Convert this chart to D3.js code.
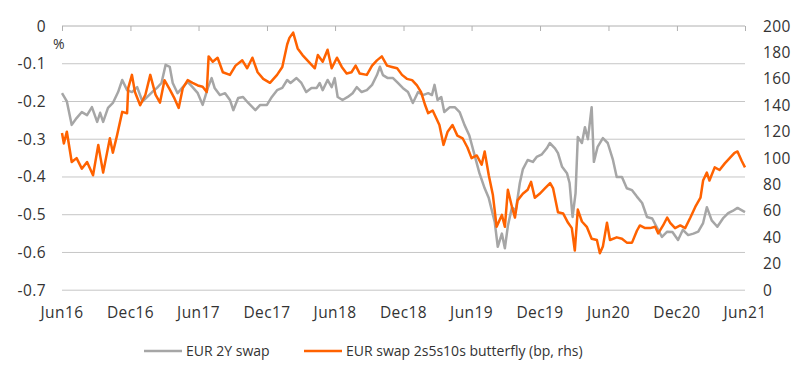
<!DOCTYPE html>
<html><head><meta charset="utf-8">
<script src="https://cdn.jsdelivr.net/npm/d3@7/dist/d3.min.js"></script>
<style>body{margin:0;background:#fff}svg{display:block}text{font-family:"Open Sans",sans-serif}</style>
</head><body><svg id="c" width="800" height="379"></svg>
<script>
const leftTicks = [0,-0.1,-0.2,-0.3,-0.4,-0.5,-0.6,-0.7];
const rightTicks = [0,20,40,60,80,100,120,140,160,180,200];
const xTickLabels = ["Jun16","Dec16","Jun17","Dec17","Jun18","Dec18","Jun19","Dec19","Jun20","Dec20","Jun21"];
const seriesNames = ["EUR 2Y swap","EUR swap 2s5s10s butterfly (bp, rhs)"];

const swapDates = ["2016-06-01","2016-06-14","2016-06-27","2016-07-10","2016-07-24","2016-08-07","2016-08-20","2016-09-03","2016-09-11","2016-09-19","2016-10-02","2016-10-15","2016-10-29","2016-11-09","2016-11-22","2016-12-05","2016-12-19","2017-01-02","2017-01-15","2017-01-28","2017-02-10","2017-02-22","2017-03-05","2017-03-16","2017-03-24","2017-04-06","2017-04-20","2017-05-03","2017-05-16","2017-05-30","2017-06-12","2017-06-26","2017-07-06","2017-07-14","2017-07-28","2017-08-11","2017-08-24","2017-09-02","2017-09-15","2017-09-28","2017-10-12","2017-10-31","2017-11-13","2017-12-01","2017-12-14","2017-12-28","2018-01-11","2018-01-24","2018-02-02","2018-02-18","2018-03-03","2018-03-16","2018-03-30","2018-04-13","2018-04-21","2018-04-29","2018-05-12","2018-05-23","2018-05-31","2018-06-08","2018-06-21","2018-07-05","2018-07-18","2018-07-29","2018-08-11","2018-08-25","2018-09-08","2018-09-21","2018-09-29","2018-10-07","2018-10-20","2018-11-03","2018-11-16","2018-11-29","2018-12-13","2018-12-26","2019-01-09","2019-01-22","2019-02-05","2019-02-15","2019-02-22","2019-03-02","2019-03-12","2019-03-20","2019-04-04","2019-04-17","2019-04-30","2019-05-13","2019-05-26","2019-06-09","2019-06-22","2019-07-06","2019-07-17","2019-08-02","2019-08-10","2019-08-21","2019-08-29","2019-09-06","2019-09-17","2019-09-27","2019-10-08","2019-10-16","2019-10-29","2019-11-12","2019-11-22","2019-12-06","2019-12-19","2019-12-27","2020-01-10","2020-01-18","2020-01-29","2020-02-11","2020-02-18","2020-02-26","2020-03-05","2020-03-11","2020-03-22","2020-03-30","2020-04-07","2020-04-17","2020-04-23","2020-05-03","2020-05-17","2020-05-30","2020-06-13","2020-06-23","2020-07-07","2020-07-20","2020-08-03","2020-08-16","2020-08-30","2020-09-12","2020-09-26","2020-10-09","2020-10-22","2020-11-05","2020-11-19","2020-12-04","2020-12-17","2020-12-31","2021-01-14","2021-01-27","2021-02-09","2021-02-19","2021-03-04","2021-03-19","2021-04-03","2021-04-17","2021-04-29","2021-05-12","2021-06-01"];
const swapValues = [-0.178,-0.20,-0.262,-0.244,-0.228,-0.236,-0.215,-0.254,-0.23,-0.254,-0.217,-0.204,-0.175,-0.143,-0.17,-0.175,-0.162,-0.20,-0.188,-0.175,-0.164,-0.151,-0.103,-0.108,-0.151,-0.178,-0.162,-0.148,-0.162,-0.178,-0.209,-0.164,-0.138,-0.164,-0.183,-0.178,-0.196,-0.223,-0.191,-0.188,-0.204,-0.223,-0.209,-0.209,-0.188,-0.17,-0.164,-0.143,-0.151,-0.138,-0.151,-0.175,-0.164,-0.164,-0.151,-0.17,-0.143,-0.162,-0.138,-0.188,-0.196,-0.188,-0.178,-0.162,-0.175,-0.17,-0.156,-0.13,-0.108,-0.13,-0.138,-0.138,-0.151,-0.164,-0.175,-0.204,-0.175,-0.183,-0.178,-0.183,-0.156,-0.196,-0.188,-0.228,-0.215,-0.215,-0.228,-0.262,-0.29,-0.342,-0.39,-0.43,-0.456,-0.52,-0.585,-0.55,-0.589,-0.53,-0.48,-0.49,-0.416,-0.38,-0.355,-0.36,-0.347,-0.34,-0.324,-0.31,-0.324,-0.337,-0.373,-0.39,-0.416,-0.506,-0.443,-0.294,-0.31,-0.268,-0.30,-0.215,-0.36,-0.32,-0.297,-0.31,-0.355,-0.40,-0.40,-0.43,-0.435,-0.452,-0.469,-0.506,-0.51,-0.535,-0.559,-0.545,-0.546,-0.567,-0.54,-0.554,-0.55,-0.545,-0.522,-0.48,-0.515,-0.532,-0.51,-0.496,-0.49,-0.482,-0.493];

const flyDates = ["2016-06-01","2016-06-06","2016-06-14","2016-06-27","2016-07-10","2016-07-24","2016-08-07","2016-08-23","2016-09-06","2016-09-19","2016-10-07","2016-10-15","2016-10-26","2016-11-09","2016-11-22","2016-11-25","2016-12-05","2016-12-13","2016-12-27","2017-01-10","2017-01-23","2017-02-06","2017-02-18","2017-03-02","2017-03-16","2017-03-29","2017-04-09","2017-04-20","2017-05-03","2017-05-16","2017-05-30","2017-06-12","2017-06-23","2017-06-28","2017-07-09","2017-07-22","2017-08-05","2017-08-24","2017-09-08","2017-09-26","2017-10-09","2017-10-23","2017-11-06","2017-11-21","2017-12-09","2017-12-28","2018-01-11","2018-01-24","2018-01-30","2018-02-09","2018-02-21","2018-03-06","2018-03-19","2018-04-08","2018-04-16","2018-04-29","2018-05-12","2018-05-23","2018-06-06","2018-06-19","2018-07-02","2018-07-15","2018-07-26","2018-08-06","2018-08-25","2018-09-08","2018-09-21","2018-10-04","2018-10-18","2018-10-31","2018-11-14","2018-11-27","2018-12-10","2018-12-24","2019-01-06","2019-01-17","2019-01-28","2019-02-05","2019-02-17","2019-02-27","2019-03-07","2019-03-18","2019-03-29","2019-04-11","2019-04-24","2019-05-08","2019-05-21","2019-06-01","2019-06-15","2019-06-28","2019-07-06","2019-07-17","2019-07-28","2019-08-07","2019-08-21","2019-08-29","2019-09-06","2019-09-17","2019-09-25","2019-10-02","2019-10-16","2019-10-29","2019-11-07","2019-11-17","2019-11-30","2019-12-14","2019-12-28","2020-01-05","2020-01-18","2020-02-01","2020-02-14","2020-02-24","2020-03-03","2020-03-11","2020-03-22","2020-04-04","2020-04-17","2020-05-01","2020-05-09","2020-05-17","2020-05-28","2020-06-05","2020-06-23","2020-07-07","2020-07-20","2020-08-03","2020-08-16","2020-08-24","2020-09-07","2020-09-20","2020-10-04","2020-10-12","2020-10-25","2020-11-05","2020-11-13","2020-11-26","2020-12-10","2020-12-23","2021-01-06","2021-01-19","2021-02-02","2021-02-09","2021-02-19","2021-02-26","2021-03-12","2021-03-25","2021-04-08","2021-04-21","2021-05-04","2021-05-12","2021-05-23","2021-06-01"];
const flyValues = [119,111,120,97,100,92,97,87,110,89,115,104,117,135,134,153,163,150,140,148,163,148,142,159,152,145,138,153,159,157,155,154,150,177,173,176,165,163,170,174,168,176,165,160,157,163,169,186,191,195,183,178,174,168,178,173,182,168,176,169,164,165,170,164,163,170,174,177,170,169,168,163,160,159,155,150,140,134,136,130,125,110,120,125,117,115,108,100,102,95,105,87,72,48,57,48,76,63,55,68,73,76,82,70,73,77,81,77,59,58,51,47,30,61,52,48,39,38,28,33,51,38,40,39,36,36,45,49,47,47,48,43,49,55,51,47,49,47,55,63,70,83,89,83,93,91,96,100,104,105,98,93];

const W = 800, H = 379;
const m = {left: 62, right: 745, top: 26, bottom: 290.2};
const svg = d3.select("#c");
const parse = d3.timeParse("%Y-%m-%d");
const tickDates = xTickLabels.map(s => d3.timeParse("%b%y")(s));

const x = d3.scaleTime().domain([parse("2016-06-01"), parse("2021-06-01")]).range([m.left, m.right]);
const yL = d3.scaleLinear().domain([-0.7, 0]).range([m.bottom, m.top]);
const yR = d3.scaleLinear().domain([0, 200]).range([m.bottom, m.top]);

// gridlines
svg.append("g").selectAll("line").data(leftTicks.filter(d => d !== 0)).join("line")
  .attr("x1", m.left).attr("x2", m.right)
  .attr("y1", d => yL(d)).attr("y2", d => yL(d))
  .attr("stroke", "#c6c6c6").attr("stroke-width", 1);

// top axis line with date ticks
const xAxis = d3.axisBottom(x).tickValues(tickDates).tickSize(5).tickFormat("");
const gx = svg.append("g").attr("transform", `translate(0,${m.top})`).call(xAxis);
gx.select(".domain").attr("stroke", "#b0b0b0").attr("d", `M${m.left},0H${m.right}`);
gx.selectAll(".tick line").attr("stroke", "#b0b0b0");

// bottom date labels
svg.append("g").selectAll("text").data(tickDates).join("text")
  .attr("x", d => x(d)).attr("y", 318)
  .attr("text-anchor", "middle").attr("font-size", 15.5).attr("letter-spacing", 0.4).attr("fill", "#333")
  .text((d, i) => xTickLabels[i]);

// left labels
const fmtL = d => d === 0 ? "0" : d3.format(".1f")(d).replace("−", "-");
svg.append("g").selectAll("text").data(leftTicks).join("text")
  .attr("x", 46).attr("y", d => yL(d) + 5.5)
  .attr("text-anchor", "end").attr("font-size", 15.5).attr("letter-spacing", 0.4).attr("fill", "#333")
  .text(fmtL);
svg.append("text").attr("x", 53).attr("y", 49).attr("font-size", 14).attr("fill", "#333").text("%");

// right labels
svg.append("g").selectAll("text").data(rightTicks).join("text")
  .attr("x", 763).attr("y", d => yR(d) + 5.5)
  .attr("text-anchor", "start").attr("font-size", 15.5).attr("letter-spacing", 0.4).attr("fill", "#333")
  .text(d => d);

// lines
const swapData = swapDates.map((d, i) => ({date: parse(d), v: swapValues[i]}));
const flyData = flyDates.map((d, i) => ({date: parse(d), v: flyValues[i]}));
svg.append("path").datum(swapData)
  .attr("fill", "none").attr("stroke", "#a6a6a6").attr("stroke-width", 2.5).attr("stroke-linejoin", "round")
  .attr("d", d3.line().x(d => x(d.date)).y(d => yL(d.v)));
svg.append("path").datum(flyData)
  .attr("fill", "none").attr("stroke", "#ff6200").attr("stroke-width", 2.5).attr("stroke-linejoin", "round")
  .attr("d", d3.line().x(d => x(d.date)).y(d => yR(d.v)));

// legend
const leg = [{x: 144, c: "#a6a6a6"}, {x: 304, c: "#ff6200"}];
leg.forEach((l, i) => {
  svg.append("line").attr("x1", l.x).attr("x2", l.x + 38).attr("y1", 351).attr("y2", 351)
    .attr("stroke", l.c).attr("stroke-width", 2.5);
  svg.append("text").attr("x", l.x + 42).attr("y", 356).attr("font-size", 14).attr("fill", "#333").text(seriesNames[i]);
});
</script></body></html>
